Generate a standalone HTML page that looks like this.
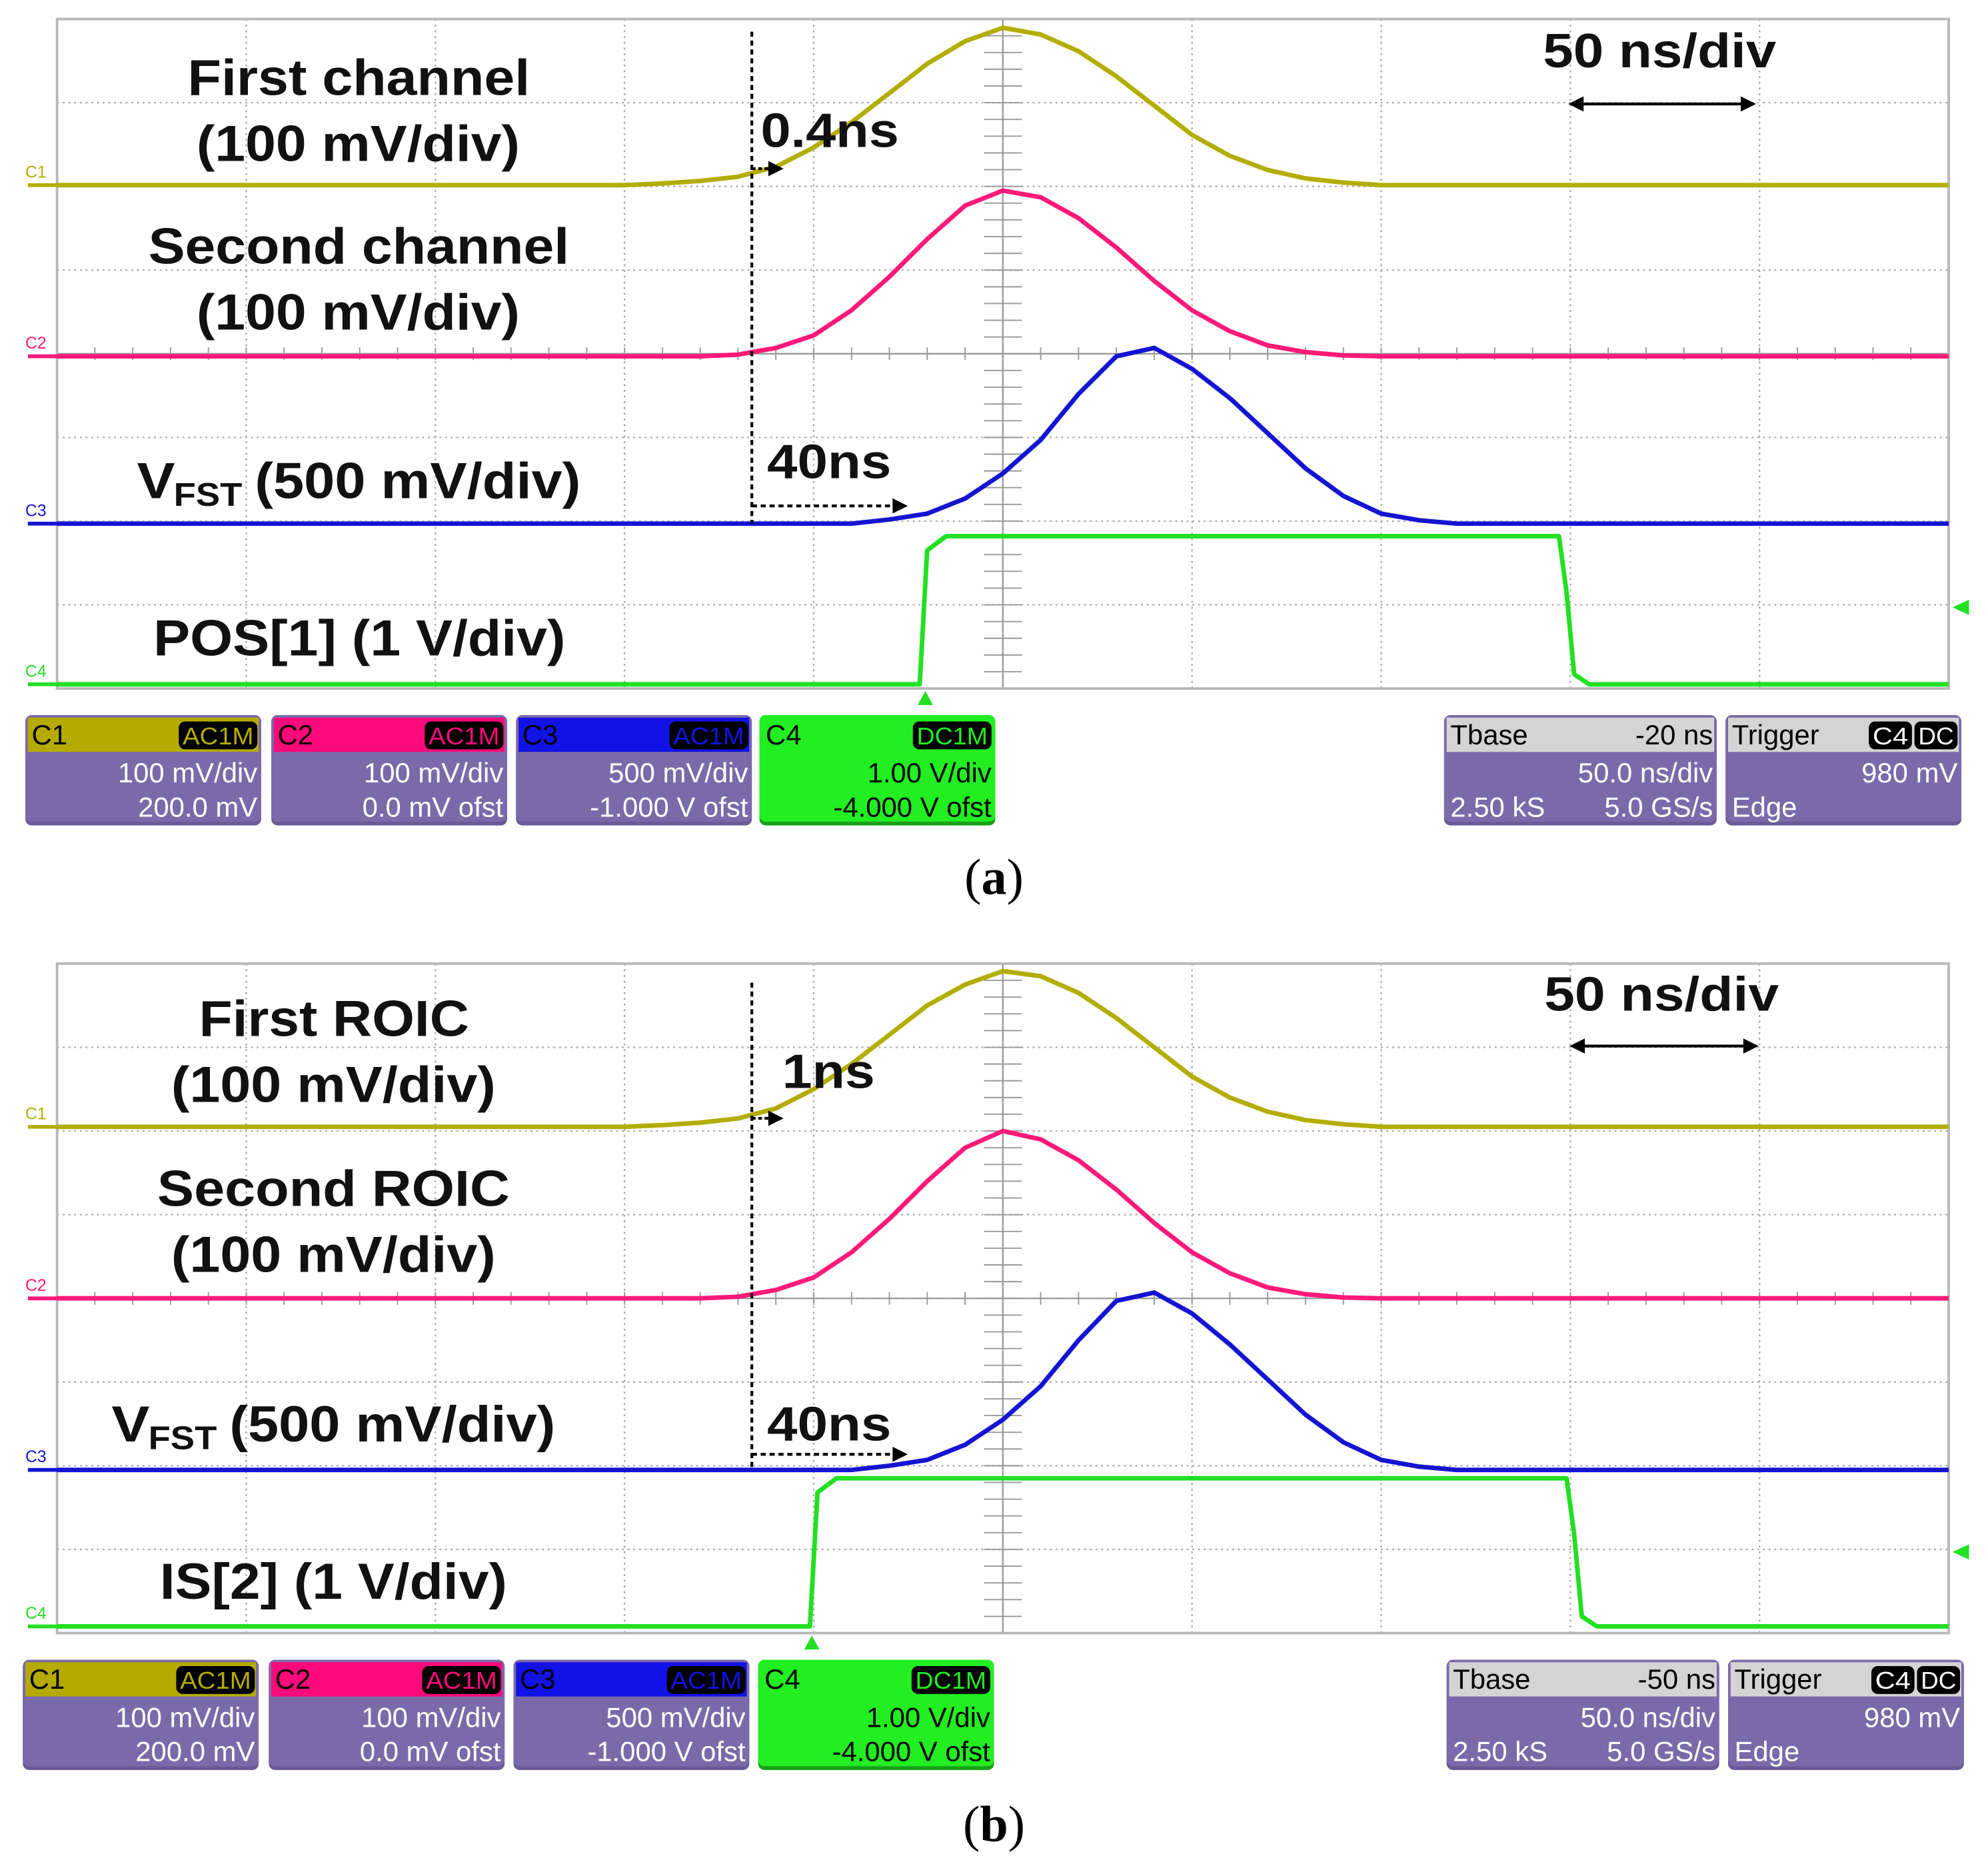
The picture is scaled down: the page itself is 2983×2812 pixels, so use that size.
<!DOCTYPE html>
<html><head><meta charset="utf-8"><style>
html,body{margin:0;padding:0;background:#fff;}
svg{display:block;}
text{font-family:"Liberation Sans",Arial,sans-serif;}
</style></head><body>
<svg id="fig" xmlns="http://www.w3.org/2000/svg" width="2983" height="2812" viewBox="0 0 1568 1478" preserveAspectRatio="none">
</svg>
<script>
// ---- data (time in ns, amplitude in divisions above baseline) ----
const pulseTimes = [0,150,160,170,180,190,200,210,220,230,240,250,260,270,280,290,300,310,320,330,340,350,360,370,380,390,400,500];
const a_c1 = [0,0,0.02,0.05,0.1,0.22,0.45,0.75,1.1,1.45,1.72,1.88,1.8,1.6,1.3,0.95,0.6,0.35,0.18,0.08,0.03,0,0,0,0,0,0,0];
const a_c2 = [0,0,0,0,0.02,0.1,0.25,0.55,0.95,1.4,1.8,1.98,1.9,1.65,1.3,0.9,0.55,0.3,0.13,0.05,0.01,0,0,0,0,0,0,0];
const a_c3 = [0,0,0,0,0,0,0,0,0.05,0.12,0.3,0.6,1.0,1.55,2.0,2.1,1.85,1.5,1.08,0.66,0.33,0.12,0.04,0,0,0,0,0];
const b_c1 = [0,0,0.02,0.05,0.1,0.22,0.45,0.75,1.1,1.45,1.7,1.86,1.8,1.6,1.3,0.95,0.6,0.35,0.18,0.08,0.03,0,0,0,0,0,0,0];
const b_c2 = [0,0,0,0,0.02,0.1,0.25,0.55,0.95,1.4,1.8,2.0,1.9,1.65,1.3,0.9,0.55,0.3,0.13,0.05,0.01,0,0,0,0,0,0,0];
const b_c3 = [0,0,0,0,0,0,0,0,0.05,0.12,0.3,0.6,1.0,1.55,2.02,2.12,1.87,1.5,1.08,0.66,0.33,0.12,0.04,0,0,0,0,0];
const a_c4Times = [0,228,230,235,397,399,401,405,500];
const a_c4 = [0,0,1.6,1.77,1.77,1.1,0.12,0,0];
const b_c4Times = [0,199,201,206,399,401,403,407,500];
const b_c4 = [0,0,1.6,1.77,1.77,1.1,0.12,0,0];
const a_baselines = [1.985,4.03,6.03,7.95];
const b_baselines = [1.95,4.0,6.05,7.92];

const NS='http://www.w3.org/2000/svg';
const svg=document.getElementById('fig');
function mk(tag,attrs,parent){const e=document.createElementNS(NS,tag);for(const k in attrs)e.setAttribute(k,attrs[k]);(parent||svg).appendChild(e);return e;}
const X0=45,W=1492,DIV_Y=66,TMAX=500;
function xs(t){return X0+t/TMAX*W;}
function ysFor(top){return function(base,v){return top+(base-v)*DIV_Y;};}

function panel(top,pfx,data){
  const g=mk('g',{});
  
  
  for(let i=1;i<10;i++){const l=mk('line',{x1:xs(i*50),x2:xs(i*50),y1:top,y2:top+528,stroke:'#a8a8a8','stroke-width':1.2,'stroke-dasharray':'1.5 3'},g);
    }
  for(let j=1;j<8;j++){const l=mk('line',{x1:X0,x2:X0+W,y1:top+j*DIV_Y,y2:top+j*DIV_Y,stroke:'#a8a8a8','stroke-width':1.2,'stroke-dasharray':'1.5 3'},g);
    }
  mk('line',{x1:xs(250),x2:xs(250),y1:top,y2:top+528,stroke:'#999','stroke-width':1.2},g);
  mk('line',{x1:X0,x2:X0+W,y1:top+264,y2:top+264,stroke:'#999','stroke-width':1.2},g);
  for(let k=0;k<50;k++){mk('line',{x1:xs(k*10),x2:xs(k*10),y1:top+259,y2:top+269,stroke:'#999','stroke-width':1},g);}
  for(let k=0;k<40;k++){mk('line',{x1:xs(245),x2:xs(255),y1:top+k*13.2,y2:top+k*13.2,stroke:'#999','stroke-width':1},g);}
  const fr=mk('rect',{x:X0,y:top,width:W,height:528,fill:'none',stroke:'#b8b8b8','stroke-width':2},g);
  
  const ys=ysFor(top);
  const cols=['#b3ad00','#ff1a7a','#1414d2','#22e022'];
  const names=['c1','c2','c3','c4'];
  data.series.forEach((s,i)=>{
    const pts=s.t.map((t,k)=>xs(t).toFixed(1)+','+ys(data.bases[i],s.v[k]).toFixed(1)).join(' ');
    const p=mk('polyline',{points:pts,fill:'none',stroke:cols[i],'stroke-width':3.6,'stroke-linejoin':'round'},g);
    
    
    const by=ys(data.bases[i],0);
    mk('line',{x1:22,x2:45,y1:by,y2:by,stroke:cols[i],'stroke-width':3},g);
    const lt=mk('text',{x:20,y:by-6,'font-size':13,fill:cols[i]},g);lt.textContent='C'+(i+1);
    
  });
  const tx=xs(data.trig);
  const m1=mk('polygon',{points:`${tx-6},${top+541} ${tx+6},${top+541} ${tx},${top+530}`,fill:'#22e022'},g);
  
  const ly=top+464;
  const m2=mk('polygon',{points:`1540,${ly} 1553,${ly-6} 1553,${ly+6}`,fill:'#22e022'},g);
  
}
panel(15,'panel-a',{bases:a_baselines,trig:229.5,series:[{t:pulseTimes,v:a_c1},{t:pulseTimes,v:a_c2},{t:pulseTimes,v:a_c3},{t:a_c4Times,v:a_c4}]});
panel(760,'panel-b',{bases:b_baselines,trig:199.5,series:[{t:pulseTimes,v:b_c1},{t:pulseTimes,v:b_c2},{t:pulseTimes,v:b_c3},{t:b_c4Times,v:b_c4}]});

function label(txt,x,y,w,size,name){
  const t=mk('text',{x:x,y:y,'font-size':size,'font-weight':'bold',fill:'#111',textLength:w,lengthAdjust:'spacingAndGlyphs'});
  t.textContent=txt;
  
  
  return t;
}
label('First channel',148,75,270,40,'label-first-channel');
label('(100 mV/div)',155,127,255,40,'label-first-scale');
label('Second channel',117,208,332,40,'label-second-channel');
label('(100 mV/div)',155,260,255,40,'label-second-scale');
label('V',108,393,30,40,'label-vfst');
label('FST',137,399,54,26,'label-vfst-subscript');
label('(500 mV/div)',201,393,257,40,'label-vfst-scale');
label('POS[1] (1 V/div)',121,517,325,40,'label-pos1');
label('0.4ns',600,116,109,38,'label-delay-0-4ns');
label('40ns',605,377,98,38,'label-delay-40ns');
label('50 ns/div',1217,53,184,38,'label-timebase');
label('First ROIC',157,817,213,40,'label-first-roic');
label('(100 mV/div)',135,869,256,40,'label-first-roic-scale');
label('Second ROIC',124,951,278,40,'label-second-roic');
label('(100 mV/div)',135,1003,256,40,'label-second-roic-scale');
label('V',88,1137,30,40,'label-vfst-b');
label('FST',117,1143,54,26,'label-vfst-b-subscript');
label('(500 mV/div)',181,1137,257,40,'label-vfst-b-scale');
label('IS[2] (1 V/div)',126,1261,274,40,'label-is2');
label('1ns',617,858,73,38,'label-delay-1ns');
label('40ns',605,1136,98,38,'label-delay-40ns-b');
label('50 ns/div',1218,797,185,38,'label-timebase-b');

function arrowHead(x,y,dir,name){const p=mk('polygon',{points:`${x},${y} ${x-12*dir},${y-6} ${x-12*dir},${y+6}`,fill:'#000'});}
function dline(x1,y1,x2,y2,name,dash){const l=mk('line',{x1,y1,x2,y2,stroke:'#000','stroke-width':2.2});if(dash!=='solid')l.setAttribute('stroke-dasharray',dash||'4 3');}
dline(593,25,593,413,'delay-reference-line');
dline(593,133,606,133,'arrow-0-4ns','3 2');arrowHead(618,133,1,'arrow-0-4ns-head');
dline(593,399,704,399,'arrow-40ns');arrowHead(716,399,1,'arrow-40ns-head');
dline(1247,82,1375,82,'timebase-arrow','solid');arrowHead(1385,82,1,'timebase-arrow-right');arrowHead(1237,82,-1,'timebase-arrow-left');
dline(593,775,593,1160,'delay-reference-line-b');
dline(593,882,606,882,'arrow-1ns','3 2');arrowHead(618,882,1,'arrow-1ns-head');
dline(593,1147,704,1147,'arrow-40ns-b');arrowHead(716,1147,1,'arrow-40ns-b-head');
dline(1248,825,1377,825,'timebase-arrow-b','solid');arrowHead(1387,825,1,'timebase-arrow-b-right');arrowHead(1238,825,-1,'timebase-arrow-b-left');

const ca=mk('text',{x:784,y:705,'font-size':40,'text-anchor':'middle',fill:'#000'});

ca.style.fontFamily='"Liberation Serif",serif';
ca.innerHTML='(<tspan font-weight="bold">a</tspan>)';
const cb=mk('text',{x:784,y:1452,'font-size':40,'text-anchor':'middle',fill:'#000'});

cb.style.fontFamily='"Liberation Serif",serif';
cb.innerHTML='(<tspan font-weight="bold">b</tspan>)';

function box(x,y,w,hdrFill,hdrText,hdrTextCol,badges,l1,l2,name,l2left){
  const g=mk('g',{});
  
  
  mk('rect',{x:x,y:y,width:w,height:87,rx:5,fill:'#6a5a98'},g);
  mk('rect',{x:x,y:y,width:w,height:84,rx:5,fill:'#7b6aaa'},g);
  mk('rect',{x:x+2,y:y+2,width:w-4,height:27,fill:hdrFill},g);
  const ht=mk('text',{x:x+5,y:y+23,'font-size':22,fill:hdrTextCol},g);ht.textContent=hdrText;
  let bx=x+w-3;
  for(let i=badges.length-1;i>=0;i--){const b=badges[i];
    mk('rect',{x:bx-b.w,y:y+5,width:b.w,height:22,rx:5,fill:'#000'},g);
    const bt=mk('text',{x:bx-b.w/2,y:y+23,'font-size':19,'text-anchor':'middle',fill:b.col,textLength:b.w-6,lengthAdjust:'spacingAndGlyphs'},g);bt.textContent=b.t;
    bx-=b.w+2;}
  const t1=mk('text',{x:x+w-3,y:y+53,'font-size':22,'text-anchor':'end',fill:'#fff'},g);t1.textContent=l1;
  if(l2){const t2=mk('text',{x:x+w-3,y:y+80,'font-size':22,'text-anchor':'end',fill:'#fff'},g);t2.textContent=l2;}
  if(l2left){const t3=mk('text',{x:x+5,y:y+80,'font-size':22,fill:'#fff'},g);t3.textContent=l2left;}
  return g;
}
function boxes(y,xsL,tbase,sfx){
  const c4col='#22ee22';
  box(xsL[0],y,186,'#b5ab00','C1','#000',[{t:'AC1M',w:62,col:'#b5ab00'}],'100 mV/div','200.0 mV','channel1-box'+sfx);
  box(xsL[1],y,186,'#ff0a7a','C2','#000',[{t:'AC1M',w:62,col:'#ff0a7a'}],'100 mV/div','0.0 mV ofst','channel2-box'+sfx);
  box(xsL[2],y,186,'#1212e6','C3','#000',[{t:'AC1M',w:62,col:'#1212e6'}],'500 mV/div','-1.000 V ofst','channel3-box'+sfx);
  const g4=box(xsL[3],y,186,c4col,'C4','#000',[{t:'DC1M',w:62,col:c4col}],'1.00 V/div','-4.000 V ofst','channel4-box'+sfx);
  const r=g4.querySelectorAll('rect');r[1].setAttribute('fill',c4col);r[0].setAttribute('fill','#18a018');
  g4.querySelectorAll('text').forEach((t,i)=>{if(i>1)t.setAttribute('fill','#000');});
  const tb=box(xsL[4],y,215,'#d4d4d4','Tbase','#000',[],'50.0 ns/div','5.0 GS/s','timebase-box'+sfx,'2.50 kS');
  const tt=mk('text',{x:xsL[4]+212,y:y+23,'font-size':22,'text-anchor':'end',fill:'#000'},tb);tt.textContent=tbase;
  box(xsL[5],y,186,'#d4d4d4','Trigger','#000',[{t:'C4',w:34,col:'#fff'},{t:'DC',w:34,col:'#fff'}],'980 mV',null,'trigger-box'+sfx,'Edge');
}
boxes(564,[20,214,407,599,1139,1361],'-20 ns','-a');
boxes(1309,[18,212,405,598,1141,1363],'-50 ns','-b');
</script>
</body></html>
